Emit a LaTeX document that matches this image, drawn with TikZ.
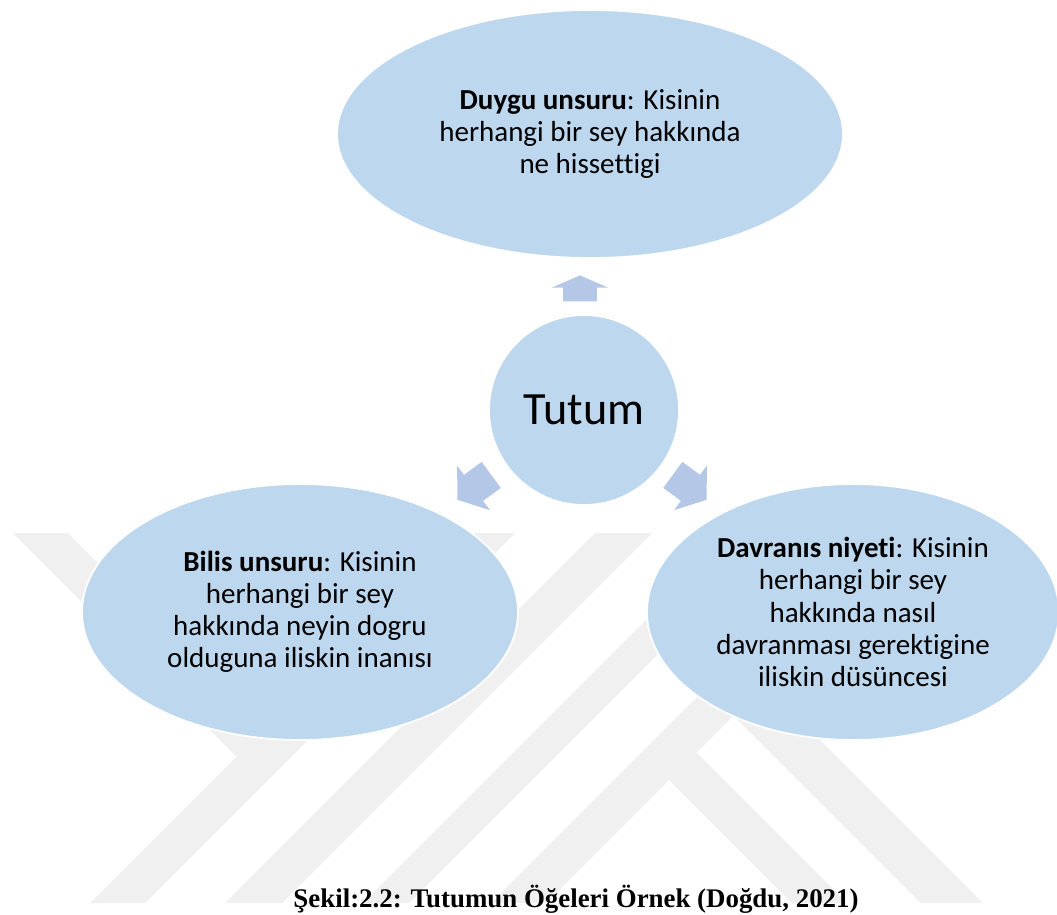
\documentclass[tikz,border=0pt]{standalone}
\usepackage{fontspec}
\setmainfont{Carlito}[Ligatures=NoCommon]
\newfontfamily\capfont{Liberation Serif}
\usepackage{tikz}
\usetikzlibrary{shapes.geometric,shapes.arrows}
\definecolor{partblue}{HTML}{BDD7EE}
\definecolor{arrowblue}{HTML}{B4C7E7}
\definecolor{wmgray}{HTML}{F0F0F0}

\begin{document}
\begin{tikzpicture}[x=0.02cm, y=-0.02cm,
  part/.style={ellipse,draw=white,line width=1pt,fill=partblue,inner sep=0pt,align=center,
    font=\fontsize{16.5}{18.3}\selectfont},
  blk/.style={single arrow,fill=arrowblue,draw=none,inner xsep=0pt,anchor=tip},
  wm/.style={fill=wmgray,draw=none}]
  \useasboundingbox (0,0) rectangle (1057,914);
  % watermark in the back
  \fill[wm] (13,533) -- (68,533) -- (264,729) -- (460,533) -- (515,533) -- (145,903)
    -- (90,903) -- (236.5,756.5) -- cycle;
  \fill[wm] (595,533) -- (652,533) -- (282,903) -- (225,903) -- cycle;
  \fill[wm] (733,533) -- (779,533) -- (409,903) -- (363,903) -- cycle;
  \fill[wm] (861,533) -- (916,533) -- (546,903) -- (491,903) -- cycle;
  \fill[wm] (669,780) -- (696.5,752.5) -- (847,903) -- (792,903) -- cycle;
  \fill[wm] (733.5,715.5) -- (764.5,684.5) -- (983,903) -- (921,903) -- cycle;
  % the three parts
  \node[part,minimum width=10.12cm,minimum height=4.96cm] (feel) at (590,134)
    {\textbf{Duygu unsuru}: Kisinin\\herhangi bir sey hakkında\\ne hissettigi};
  \node[part,minimum width=8.72cm,minimum height=5.12cm] (know) at (300,612)
    {\textbf{Bilis unsuru}: Kisinin\\herhangi bir sey\\hakkında neyin dogru\\olduguna iliskin inanısı};
  \node[part,minimum width=8.24cm,minimum height=5.12cm] (act) at (853,612)
    {\textbf{Davranıs niyeti}: Kisinin\\herhangi bir sey\\hakkında nasıl\\davranması gerektigine\\iliskin düsüncesi};
  % centre
  \node[circle,fill=partblue,draw=white,line width=1pt,minimum size=3.8cm,inner sep=0pt,
    font=\fontsize{26.3}{30}\selectfont] (att) at (584,410) {Tutum};
  % block arrows
  \node[blk,inner ysep=0.33cm,minimum height=0.52cm,single arrow head extend=0.22cm,
    single arrow tip angle=133,rotate=90] (tofeel) at (580,275) {};
  \node[blk,inner ysep=0.316cm,minimum height=0.84cm,single arrow head extend=0.23cm,
    single arrow tip angle=108,rotate=216.3] (toknow) at (457,500) {};
  \node[blk,inner ysep=0.316cm,minimum height=0.84cm,single arrow head extend=0.23cm,
    single arrow tip angle=108,rotate=-36.3] (toact) at (707,500) {};
  % caption
  \node[font=\capfont\bfseries\fontsize{15.3}{18}\selectfont,anchor=base] (cap) at (576,907)
    {Şekil:2.2: Tutumun Öğeleri Örnek (Doğdu, 2021)};
\end{tikzpicture}
\end{document}
